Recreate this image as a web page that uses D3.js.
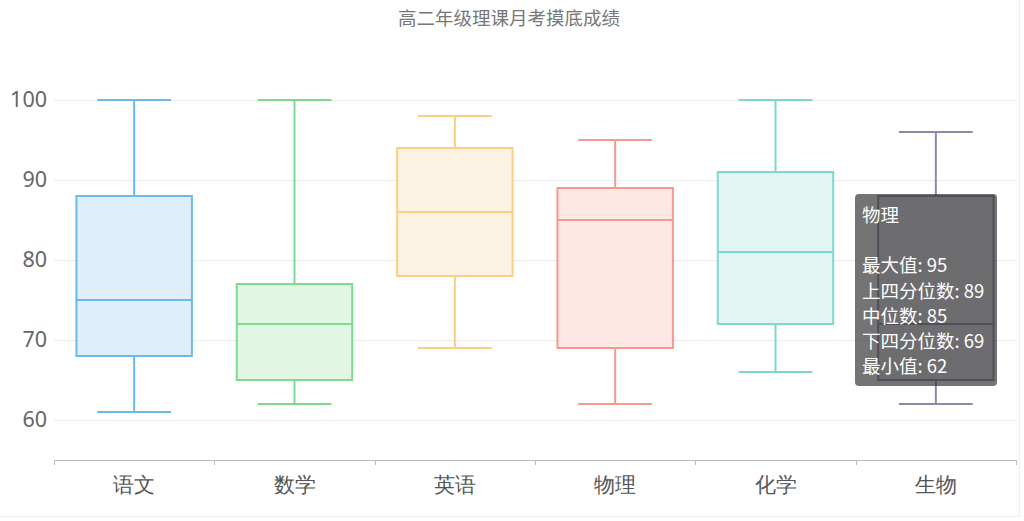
<!DOCTYPE html>
<html>
<head>
<meta charset="utf-8">
<script src="https://cdn.jsdelivr.net/npm/d3@7"></script>
<style>
html,body{margin:0;padding:0;background:#fff;}
svg{display:block;font-family:"Noto Sans CJK SC","Noto Sans",sans-serif;}
</style>
</head>
<body>
<div id="chart"></div>
<script>
const subjects=['语文','数学','英语','物理','化学','生物'];
const mins=[61,62,69,62,66,62];
const q1s=[68,65,78,69,72,65];
const medians=[75,72,86,85,81,72];
const q3s=[88,77,94,89,91,88];
const maxs=[100,100,98,95,100,96];
const yTicks=[60,70,80,90,100];
const strokes=['#6cb8f0','#7ddb8e','#fdcd80','#f59a8c','#7fd8cd','#8c89ad'];
const fills=['#dfeefb','#e2f6e6','#fdf3e3','#fde8e6','#e1f5f3','#e8e7f0'];
const tipName='物理';
const tipLabels=['最大值','上四分位数','中位数','下四分位数','最小值'];
const tipIdx=subjects.indexOf(tipName);
const tipValues=[maxs[tipIdx],q3s[tipIdx],medians[tipIdx],q1s[tipIdx],mins[tipIdx]];

(function(){
 const W=1024,H=521;
 const svg=d3.select('#chart').append('svg').attr('width',W).attr('height',H);
 const left=54,right=1016,top=100,bottom=460;
 const data=subjects.map((s,i)=>({s,min:mins[i],q1:q1s[i],med:medians[i],q3:q3s[i],max:maxs[i],i}));
 const x=d3.scaleBand().domain(subjects).range([left,right]);
 const y=d3.scaleLinear().domain([55,100]).range([bottom,top]);

 // container border
 svg.append('line').attr('x1',0).attr('x2',1019).attr('y1',516.5).attr('y2',516.5).attr('stroke','#eee');
 svg.append('line').attr('x1',1019.5).attr('x2',1019.5).attr('y1',0).attr('y2',517).attr('stroke','#eee');

 svg.append('text').attr('x',509).attr('y',25).attr('text-anchor','middle')
   .attr('font-size',18.5).attr('fill','#777').text('高二年级理课月考摸底成绩');

 // grid
 svg.append('g').selectAll('line').data(yTicks).enter().append('line')
   .attr('x1',left).attr('x2',right).attr('y1',d=>y(d)+0.5).attr('y2',d=>y(d)+0.5)
   .attr('stroke','#eaeaea');
 const ya=svg.append('g').attr('transform',`translate(${left},0)`)
   .call(d3.axisLeft(y).tickValues(yTicks).tickSize(0).tickPadding(7));
 ya.select('.domain').remove();
 ya.selectAll('text').attr('font-size',21.5).attr('fill','#666').attr('font-family','"Noto Sans","Open Sans",sans-serif');

 const xa=svg.append('g').attr('transform',`translate(0,${bottom})`)
   .call(d3.axisBottom(x).tickSize(0).tickPadding(17));
 xa.select('.domain').attr('stroke','#bbb').attr('d',`M${left},0.5H${right}`);
 xa.selectAll('text').attr('font-size',21).attr('fill','#555');
 svg.append('g').selectAll('line').data(d3.range(subjects.length+1)).enter().append('line')
   .attr('x1',d=>Math.round(left+d*x.bandwidth())+0.5).attr('x2',d=>Math.round(left+d*x.bandwidth())+0.5)
   .attr('y1',bottom).attr('y2',bottom+5).attr('stroke','#bbb');

 const bw=x.bandwidth()*0.72,cw=x.bandwidth()*0.46;
 const g=svg.append('g').selectAll('g').data(data).enter().append('g')
   .attr('transform',d=>`translate(${x(d.s)+x.bandwidth()/2},0)`)
   .attr('stroke',d=>strokes[d.i]).attr('stroke-width',2);
 g.append('line').attr('x1',0).attr('x2',0).attr('y1',d=>y(d.max)).attr('y2',d=>y(d.q3));
 g.append('line').attr('x1',0).attr('x2',0).attr('y1',d=>y(d.q1)).attr('y2',d=>y(d.min));
 g.append('line').attr('x1',-cw/2).attr('x2',cw/2).attr('y1',d=>y(d.max)).attr('y2',d=>y(d.max));
 g.append('line').attr('x1',-cw/2).attr('x2',cw/2).attr('y1',d=>y(d.min)).attr('y2',d=>y(d.min));
 g.append('rect').attr('x',-bw/2).attr('width',bw).attr('y',d=>y(d.q3)).attr('height',d=>y(d.q1)-y(d.q3))
   .attr('fill',d=>fills[d.i]);
 g.append('line').attr('x1',-bw/2).attr('x2',bw/2).attr('y1',d=>y(d.med)).attr('y2',d=>y(d.med));

 // tooltip
 const tx=855,ty=194;
 const tip=svg.append('g').attr('transform',`translate(${tx},${ty})`);
 tip.append('rect').attr('width',142).attr('height',192).attr('rx',4).attr('fill','rgba(50,50,50,0.68)');
 const lines=[tipName,''].concat(tipLabels.map((l,i)=>`${l}: ${tipValues[i]}`));
 tip.selectAll('text').data(lines).enter().append('text')
   .attr('x',7).attr('y',(d,i)=>28+i*25.2).attr('font-size',18.5).attr('fill','#fff').text(d=>d);
})();
</script>
</body>
</html>
